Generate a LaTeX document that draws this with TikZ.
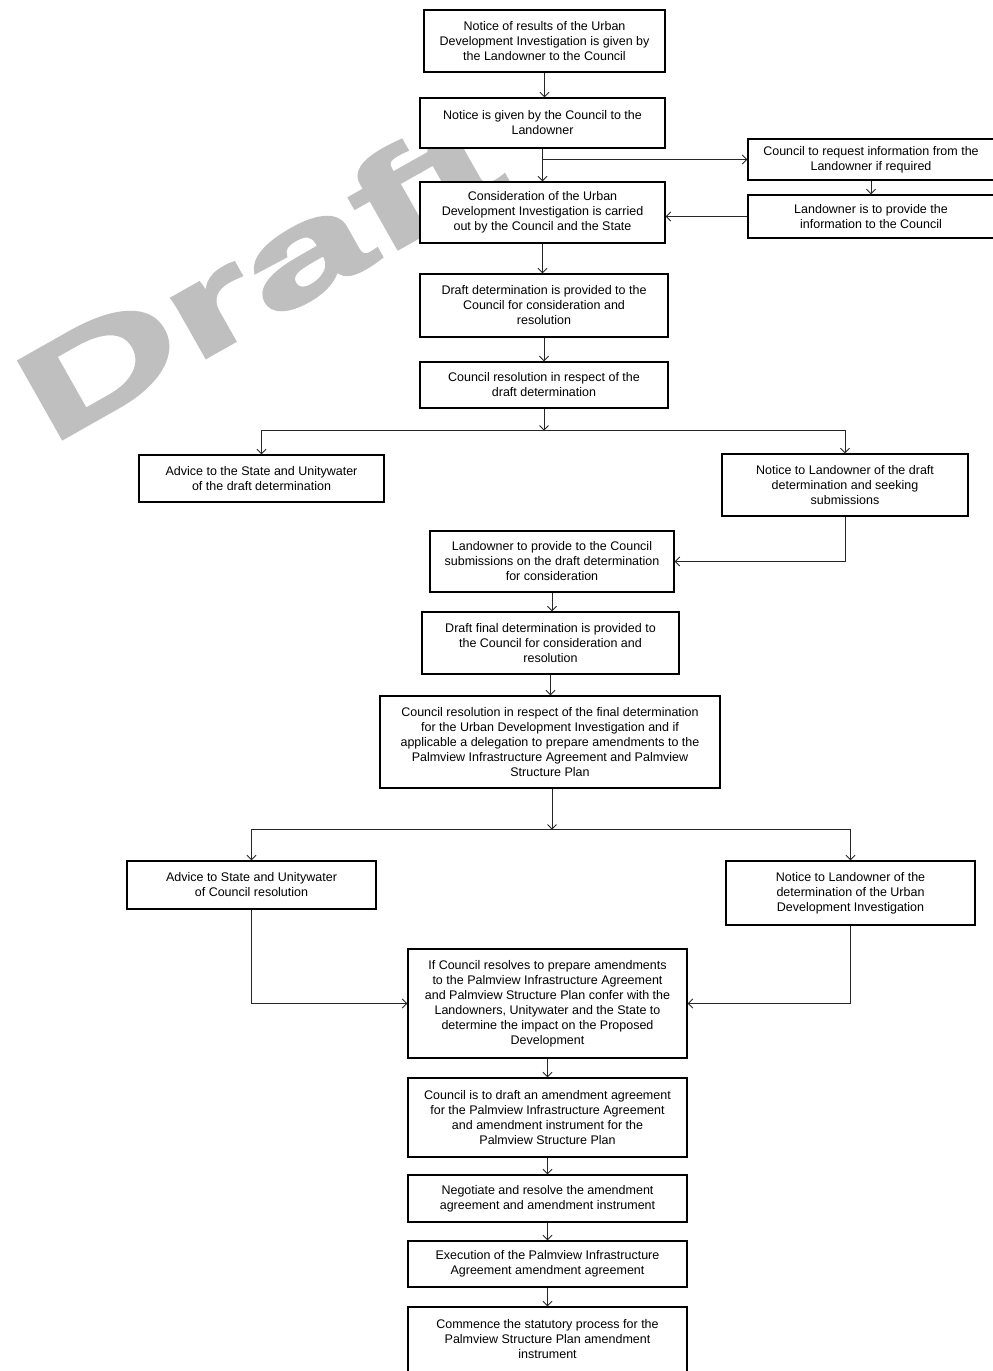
\documentclass[tikz,border=0pt]{standalone}
\usepackage{fontspec}
\setmainfont{Liberation Sans}
\newfontfamily\wmfont[FakeBold=2]{Liberation Sans Bold}
\usetikzlibrary{arrows.meta,calc}
\begin{document}
\begin{tikzpicture}[x=1pt,y=-1pt,
  box/.style={draw=black, line width=1.3pt, fill=white, align=center, inner sep=0pt,
    font=\fontsize{12.5}{15}\selectfont},
  arr/.style={draw=black!85, line width=0.9pt, -{Straight Barb[length=4.5pt,width=9pt]}},
  ln/.style={draw=black!85, line width=0.9pt},
  wm/.style={text=black!25, inner sep=0pt, anchor=base west, rotate=29.5, xscale=1.75,
    transform shape, font=\wmfont\fontsize{130}{130}\selectfont}]
\useasboundingbox (0,0) rectangle (993,1371);
% watermark
\node[wm] (wmark) at (50,446) {Draft};
% boxes
\node[box, minimum width=241pt, minimum height=62pt] (n1) at (544.5,41)
  {Notice of results of the Urban\\Development Investigation is given by\\the Landowner to the Council};
\node[box, minimum width=245pt, minimum height=50pt] (n2) at (542.5,123)
  {Notice is given by the Council to the\\Landowner};
\node[box, minimum width=246pt, minimum height=41pt] (req) at (871,159.5)
  {Council to request information from the\\Landowner if required};
\node[box, minimum width=246pt, minimum height=43pt] (prov) at (871,216.5)
  {Landowner is to provide the\\information to the Council};
\node[box, minimum width=245pt, minimum height=61pt] (cons) at (542.5,212.5)
  {Consideration of the Urban\\Development Investigation is carried\\out by the Council and the State};
\node[box, minimum width=248pt, minimum height=63pt] (draft) at (544,305.5)
  {Draft determination is provided to the\\Council for consideration and\\resolution};
\node[box, minimum width=248pt, minimum height=46pt] (res) at (544,385)
  {Council resolution in respect of the\\draft determination};
\node[box, minimum width=245pt, minimum height=47pt] (adv1) at (261.5,478.5)
  {Advice to the State and Unitywater\\of the draft determination};
\node[box, minimum width=246pt, minimum height=62pt] (not1) at (845,485)
  {Notice to Landowner of the draft\\determination and seeking\\submissions};
\node[box, minimum width=244pt, minimum height=61pt] (sub) at (552,561.5)
  {Landowner to provide to the Council\\submissions on the draft determination\\for consideration};
\node[box, minimum width=257pt, minimum height=62pt] (dfinal) at (550.5,643)
  {Draft final determination is provided to\\the Council for consideration and\\resolution};
\node[box, minimum width=340pt, minimum height=92pt] (fres) at (550,742)
  {Council resolution in respect of the final determination\\for the Urban Development Investigation and if\\applicable a delegation to prepare amendments to the\\Palmview Infrastructure Agreement and Palmview\\Structure Plan};
\node[box, minimum width=249pt, minimum height=48pt] (adv2) at (251.5,885)
  {Advice to State and Unitywater\\of Council resolution};
\node[box, minimum width=249pt, minimum height=64pt] (not2) at (850.5,893)
  {Notice to Landowner of the\\determination of the Urban\\Development Investigation};
\node[box, minimum width=279pt, minimum height=109pt] (conf) at (547.5,1003.5)
  {If Council resolves to prepare amendments\\to the Palmview Infrastructure Agreement\\and Palmview Structure Plan confer with the\\Landowners, Unitywater and the State to\\determine the impact on the Proposed\\Development};
\node[box, minimum width=279pt, minimum height=79pt] (amend) at (547.5,1117.5)
  {Council is to draft an amendment agreement\\for the Palmview Infrastructure Agreement\\and amendment instrument for the\\Palmview Structure Plan};
\node[box, minimum width=279pt, minimum height=47pt] (neg) at (547.5,1198.5)
  {Negotiate and resolve the amendment\\agreement and amendment instrument};
\node[box, minimum width=279pt, minimum height=46pt] (exec) at (547.5,1264)
  {Execution of the Palmview Infrastructure\\Agreement amendment agreement};
\node[box, minimum width=279pt, minimum height=65pt] (comm) at (547.5,1339.5)
  {Commence the statutory process for the\\Palmview Structure Plan amendment\\instrument};
% connectors
\draw[arr] (n1.south) -- (n1.south |- n2.north);
\draw[arr] (n2.south) -- (cons.north);
\draw[arr] (n2.south) |- (req.west);
\draw[arr] (req.south) -- (prov.north);
\draw[arr] (prov.west) -- (prov.west -| cons.east);
\draw[arr] (cons.south) -- (cons.south |- draft.north);
\draw[arr] (draft.south) -- (res.north);
\coordinate (b1) at ($(res.south)+(0,22)$);
\draw[arr] (res.south) -- (b1);
\draw[arr] (b1) -| (adv1.north);
\draw[arr] (b1) -| (not1.north);
\draw[arr] (not1.south) |- (sub.east);
\draw[arr] (sub.south) -- (sub.south |- dfinal.north);
\draw[arr] (dfinal.south) -- (dfinal.south |- fres.north);
\coordinate (b2) at ($(fres.south)+(2,41)$);
\draw[arr] (fres.south) ++(2,0) -- (b2);
\draw[arr] (b2) -| (adv2.north);
\draw[arr] (b2) -| (not2.north);
\draw[arr] (adv2.south) |- (conf.west);
\draw[arr] (not2.south) |- (conf.east);
\draw[arr] (conf.south) -- (amend.north);
\draw[arr] (amend.south) -- (neg.north);
\draw[arr] (neg.south) -- (exec.north);
\draw[arr] (exec.south) -- (comm.north);
\end{tikzpicture}
\end{document}
